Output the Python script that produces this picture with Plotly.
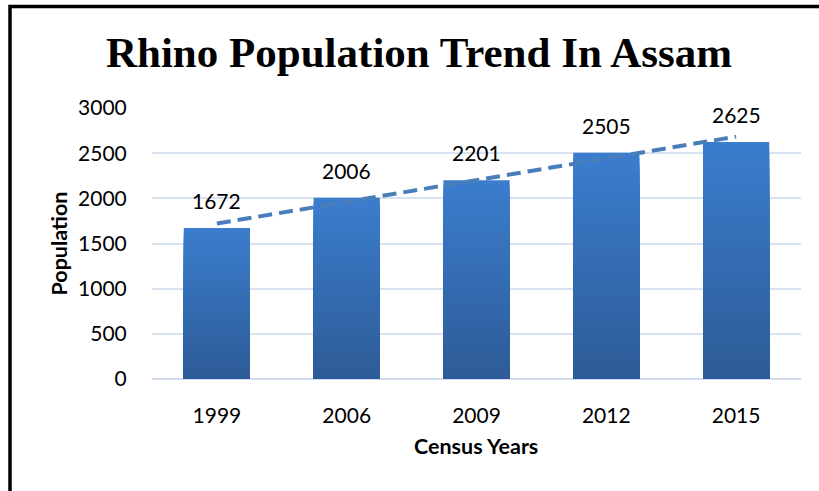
import numpy as np
import plotly.graph_objects as go

years = ["1999", "2006", "2009", "2012", "2015"]
population = [1672, 2006, 2201, 2505, 2625]
y_ticks = [0, 500, 1000, 1500, 2000, 2500, 3000]

TOP = (59, 125, 205)
BOT = (45, 91, 151)

fig = go.Figure()

# Gradient bars: overlay bars of decreasing height, darker toward the base
N = 40
vals = np.array(population, dtype=float)
for k in range(N):
    frac_top = (N - k) / N
    f = (N - k - 0.5) / N
    c = tuple(int(round(BOT[i] + (TOP[i] - BOT[i]) * f)) for i in range(3))
    fig.add_trace(go.Bar(
        x=years, y=vals * frac_top, width=0.51,
        marker=dict(color=f"rgb{c}", line=dict(width=0)),
        hoverinfo="skip", showlegend=False,
    ))

# Linear trendline
idx = np.arange(len(years))
slope, intercept = np.polyfit(idx, vals, 1)
trend = slope * idx + intercept
fig.add_trace(go.Scatter(
    x=years, y=trend, mode="lines",
    line=dict(color="#4a7ebb", width=4, dash="14px,7px"),
    hoverinfo="skip", showlegend=False,
))

# Data labels (category serial positions)
for i, v in enumerate(population):
    fig.add_annotation(x=int(i), y=v, text=str(v), showarrow=False,
                       xanchor="center", yanchor="bottom", yshift=13,
                       font=dict(family="Lato", size=21, color="#000000"))

L, R, T, B = 152, 18, 108, 112
W, H = 819, 491
ph = H - T - B
pw = W - L - R

# Axis titles
fig.add_annotation(x=(58 - L) / pw, y=0.5, xref="paper", yref="paper",
                   xanchor="center", yanchor="middle",
                   text="<b>Population</b>", textangle=-90, showarrow=False,
                   font=dict(family="Lato", size=21.5, color="#000000"))
fig.add_annotation(x=(476 - L) / pw, y=-(446 - (T + ph)) / ph,
                   xref="paper", yref="paper",
                   xanchor="center", yanchor="middle",
                   text="<b>Census Years</b>", showarrow=False,
                   font=dict(family="Lato", size=21.5, color="#000000"))

# Frame lines (left and top)
lx = (10 - L) / pw
ty = 1 + (T - 6.5) / ph
fig.add_shape(type="path", xref="paper", yref="paper",
              path=f"M {lx} -0.6 L {lx} {ty} L 1.2 {ty}",
              line=dict(color="#000000", width=3.5))

fig.update_layout(
    width=W, height=H,
    margin=dict(l=L, r=R, t=T, b=B),
    barmode="overlay",
    paper_bgcolor="white", plot_bgcolor="white",
    title=dict(text="<b>Rhino Population Trend In Assam</b>",
               x=419 / W, xanchor="center", y=1 - 52 / H, yanchor="middle",
               font=dict(family="Liberation Serif", size=43, color="#000000")),
    xaxis=dict(type="category", range=[-0.5, len(years) - 0.5],
               showgrid=False, showline=False, zeroline=False,
               ticks="outside", ticklen=18, tickcolor="rgba(0,0,0,0)",
               tickfont=dict(family="Lato", size=21, color="#000000")),
    yaxis=dict(range=[0, 3000], tickvals=y_ticks, showgrid=True,
               gridcolor="#d9e2f1", gridwidth=1.5, zeroline=True,
               zerolinecolor="#d0dbed", zerolinewidth=2, showline=False,
               ticks="outside", ticklen=20, tickcolor="rgba(0,0,0,0)",
               tickfont=dict(family="Lato", size=21, color="#000000")),
    showlegend=False,
)

fig.write_html("out.html", config={"displayModeBar": False},
               post_script="document.body.style.margin='0';document.body.style.padding='0';")
